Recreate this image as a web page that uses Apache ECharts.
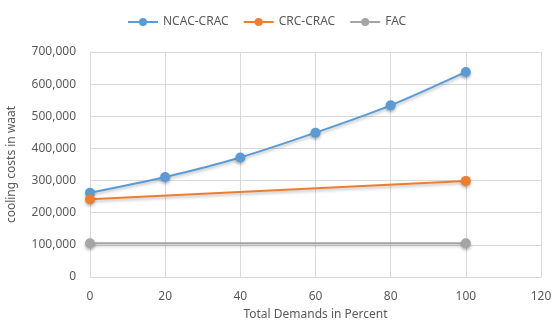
<!DOCTYPE html>
<html><head><meta charset="utf-8">
<script src="https://cdn.jsdelivr.net/npm/echarts@6/dist/echarts.min.js"></script>
<style>html,body{margin:0;padding:0;background:#fff}#c{width:552px;height:324px}</style>
</head><body><div id="c"></div>
<script>
const ncacX = [0, 20, 40, 60, 80, 100];
const ncacY = [262000, 311000, 372000, 449000, 534000, 638000];
const crcX = [0, 100];
const crcY = [242000, 299000];
const facX = [0, 100];
const facY = [105000, 105000];
const seriesNames = ['NCAC-CRAC', 'CRC-CRAC', 'FAC'];
const colors = ['#5B9BD5', '#ED7D31', '#A5A5A5'];

const pair = (xs, ys) => xs.map((x, i) => [x, ys[i]]);
const font = 'Noto Sans';
const txt = '#595959';

const mk = (name, data, color, smooth) => ({
  name, type: 'line', data, smooth,
  symbol: 'circle', symbolSize: 10,
  lineStyle: { color, width: 2, shadowColor: 'rgba(0,0,0,0.25)', shadowBlur: 3, shadowOffsetY: 2 },
  itemStyle: { color, shadowColor: 'rgba(0,0,0,0.3)', shadowBlur: 3, shadowOffsetY: 2 },
  emphasis: { disabled: true }
});

const chart = echarts.init(document.getElementById('c'), null, { renderer: 'canvas' });
chart.setOption({
  animation: false,
  color: colors,
  textStyle: { fontFamily: font },
  legend: {
    top: 11, left: 122, itemWidth: 30, itemHeight: 10, itemGap: 14,
    textStyle: { color: txt, fontSize: 12, fontFamily: font },
    data: seriesNames
  },
  grid: { left: 90, right: 11, top: 52, bottom: 47, outerBoundsMode: 'none', containLabel: false },
  xAxis: {
    type: 'value', min: 0, max: 120, interval: 20,
    name: 'Total Demands in Percent', nameLocation: 'middle', nameGap: 32,
    nameTextStyle: { color: txt, fontSize: 12, fontFamily: font },
    axisLine: { show: true, lineStyle: { color: '#D9D9D9' } },
    axisTick: { show: false },
    axisLabel: { color: txt, fontSize: 12, margin: 14 },
    splitLine: { show: true, lineStyle: { color: '#D9D9D9' } }
  },
  yAxis: {
    type: 'value', min: 0, max: 700000, interval: 100000,
    name: 'cooling costs in waat', nameLocation: 'middle', nameGap: 72, nameRotate: 90,
    nameTextStyle: { color: txt, fontSize: 12, fontFamily: font },
    axisLine: { show: true, lineStyle: { color: '#D9D9D9' } },
    axisTick: { show: false },
    axisLabel: { color: txt, fontSize: 12, margin: 14,
      formatter: v => v.toLocaleString('en-US') },
    splitLine: { show: true, lineStyle: { color: '#D9D9D9' } }
  },
  series: [
    mk(seriesNames[0], pair(ncacX, ncacY), colors[0], 0.3),
    mk(seriesNames[1], pair(crcX, crcY), colors[1], false),
    mk(seriesNames[2], pair(facX, facY), colors[2], false)
  ]
});
</script></body></html>
